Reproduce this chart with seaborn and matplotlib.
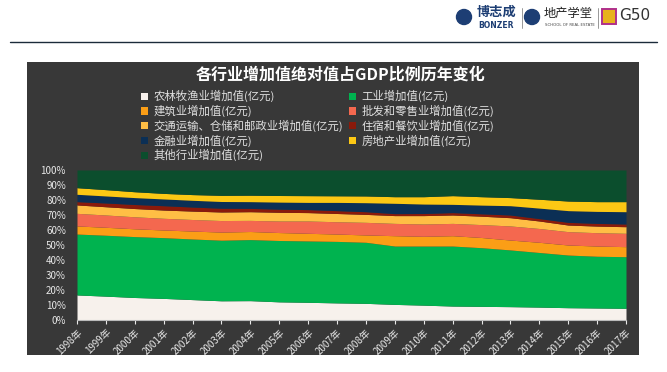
"""
100% stacked area chart: share of each industry's value added in GDP,
1998-2017, drawn on a dark chalkboard-like panel under a logo header.
"""

import matplotlib.pyplot as plt
from matplotlib.patches import Rectangle, Patch, Circle
import numpy as np
import seaborn as sns


# Years on the x-axis.
YEARS = list(range(1998, 2018))
YEAR_LABELS = [f"{y}年" for y in YEARS]

# Share of GDP (%) per sector.
AGRICULTURE = [16.7, 15.9, 15.0, 14.4, 13.6, 12.8, 12.9, 12.1, 11.8, 11.4,
               11.1, 10.4, 9.9, 9.3, 9.1, 8.9, 8.6, 8.2, 8.0, 7.8]
INDUSTRY = [40.6, 40.6, 40.6, 40.5, 40.4, 40.4, 40.7, 40.9, 40.9, 41.0,
            40.7, 38.9, 39.4, 40.0, 39.1, 37.8, 36.4, 35.1, 34.5, 34.4]
CONSTRUCTION = [5.4, 5.3, 5.2, 5.1, 5.3, 5.4, 5.4, 5.3, 5.1, 4.9,
                4.9, 6.9, 6.5, 6.9, 6.8, 6.6, 6.8, 6.7, 6.8, 6.7]
WHOLESALE = [8.4, 8.2, 8.0, 7.8, 7.7, 7.7, 7.4, 7.7, 8.2, 8.2,
             8.4, 8.2, 8.2, 8.2, 8.6, 9.4, 9.2, 8.9, 8.9, 8.9]
TRANSPORT = [5.6, 5.5, 5.5, 5.5, 5.6, 5.7, 5.8, 5.8, 5.6, 5.5,
             5.3, 5.2, 5.6, 5.6, 5.6, 5.5, 5.0, 4.4, 4.4, 4.4]
HOTEL = [2.2, 2.5, 2.7, 2.9, 2.7, 2.5, 2.2, 2.1, 2.0, 1.9,
         1.8, 1.3, 1.4, 1.6, 1.6, 1.8, 1.6, 1.8, 1.8, 1.8]
FINANCE = [4.9, 4.7, 4.6, 4.5, 4.5, 4.5, 4.5, 4.7, 4.8, 5.5,
           6.0, 6.9, 6.3, 5.5, 5.8, 6.2, 7.0, 7.8, 8.0, 8.2]
REAL_ESTATE = [4.4, 4.2, 3.9, 3.7, 3.8, 4.1, 4.3, 4.4, 4.5, 4.4,
               4.5, 4.4, 4.9, 5.8, 5.6, 5.4, 5.9, 6.4, 6.5, 6.7]
OTHERS = [11.8, 13.1, 14.5, 15.6, 16.4, 16.9, 16.8, 17.0, 17.1, 17.2,
          17.3, 17.8, 17.8, 17.1, 17.8, 18.4, 19.5, 20.7, 21.1, 21.1]

SERIES_NAMES = [
    "农林牧渔业增加值(亿元)", "工业增加值(亿元)", "建筑业增加值(亿元)",
    "批发和零售业增加值(亿元)", "交通运输、仓储和邮政业增加值(亿元)",
    "住宿和餐饮业增加值(亿元)", "金融业增加值(亿元)",
    "房地产业增加值(亿元)", "其他行业增加值(亿元)",
]
SERIES_COLORS = ["#F7F1EC", "#00B34F", "#FB9E16", "#F4684F", "#FFBE45",
                 "#8A1A0B", "#0B2F55", "#FCC814", "#0B4E2D"]

TITLE = "各行业增加值绝对值占GDP比例历年变化"


def main() -> None:
    sns.set_theme(style="dark")
    plt.rcParams["font.family"] = ["Noto Sans CJK SC", "DejaVu Sans"]

    W, H = 667, 372
    fig = plt.figure(figsize=(W / 100, H / 100), dpi=100)
    fig.patch.set_facecolor("white")

    # Background layer in pixel coordinates (panel, header line, logos).
    bg = fig.add_axes([0, 0, 1, 1], zorder=0)
    bg.set_xlim(0, W)
    bg.set_ylim(H, 0)
    bg.axis("off")
    bg.add_patch(Rectangle((27, 62), 612, 293, facecolor="#383838",
                           edgecolor="none"))
    bg.plot([10, 657], [42, 42], color="#1B2B3A", lw=1)

    navy = "#1D3E74"
    bg.add_patch(Circle((464, 17), 7.5, color=navy))
    bg.text(477, 12, "博志成", fontsize=9.5, fontweight="bold", color=navy,
            va="center")
    bg.text(478, 25, "BONZER", fontsize=5.5, fontweight="bold", color=navy,
            va="center", family="DejaVu Sans")
    bg.plot([522, 522], [8, 28], color="#888888", lw=0.6)
    bg.add_patch(Circle((532, 17), 7.5, color=navy))
    bg.text(544, 13, "地产学堂", fontsize=8.8, color="#222222", va="center")
    bg.text(545, 25, "SCHOOL OF REAL ESTATE", fontsize=2.8, color="#444444",
            va="center", family="DejaVu Sans")
    bg.plot([598, 598], [8, 28], color="#888888", lw=0.6)
    bg.add_patch(Rectangle((602, 9), 14, 15, facecolor="#E8B21C",
                           edgecolor="#B0308A", lw=1.4))
    bg.text(619, 16, "G50", fontsize=11, color="#333333", va="center",
            family="DejaVu Sans")

    # Title.
    fig.text(341 / W, 1 - 75 / H, TITLE, color="white", fontsize=11.5,
             fontweight="bold", ha="center", va="center")

    # Stacked area, normalised to 100%.
    data = np.array([AGRICULTURE, INDUSTRY, CONSTRUCTION, WHOLESALE,
                     TRANSPORT, HOTEL, FINANCE, REAL_ESTATE, OTHERS], float)
    shares = data / data.sum(axis=0) * 100

    ax = fig.add_axes([77 / W, 1 - 320 / H, 549 / W, 150 / H], zorder=1)
    ax.set_facecolor("none")
    ax.stackplot(YEARS, shares, colors=SERIES_COLORS, labels=SERIES_NAMES,
                 linewidth=0)
    ax.set_xlim(YEARS[0], YEARS[-1])
    ax.set_ylim(0, 100)
    ax.grid(False)

    ax.set_yticks(range(0, 101, 10))
    ax.set_yticklabels([f"{v}%" for v in range(0, 101, 10)])
    ax.set_xticks(YEARS)
    ax.set_xticklabels(YEAR_LABELS, rotation=45, ha="right",
                       rotation_mode="anchor")
    ax.tick_params(axis="y", length=0, labelsize=7, colors="#E8E8E8", pad=8)
    ax.tick_params(axis="x", length=3, width=0.8, direction="out",
                   labelsize=7, colors="#E8E8E8", pad=2, bottom=True)
    for side in ["top", "left", "right"]:
        ax.spines[side].set_visible(False)
    ax.spines["bottom"].set_color("#BBBBBB")
    ax.spines["bottom"].set_linewidth(0.8)

    # Legend in two columns, filled row by row as in the reference.
    handles = [Patch(facecolor=c, edgecolor="none") for c in SERIES_COLORS]
    order = [0, 2, 4, 6, 8, 1, 3, 5, 7]
    fig.legend([handles[i] for i in order], [SERIES_NAMES[i] for i in order],
               ncol=2, loc="upper left", bbox_to_anchor=(141 / W, 1 - 90 / H),
               frameon=False, fontsize=8.2, handlelength=0.6,
               handleheight=0.6, handletextpad=0.5, columnspacing=0.5,
               labelspacing=0.22, labelcolor="#E0E0E0", borderpad=0,
               borderaxespad=0)

    fig.savefig("out.png", dpi=100)
    plt.close(fig)


if __name__ == "__main__":
    main()
